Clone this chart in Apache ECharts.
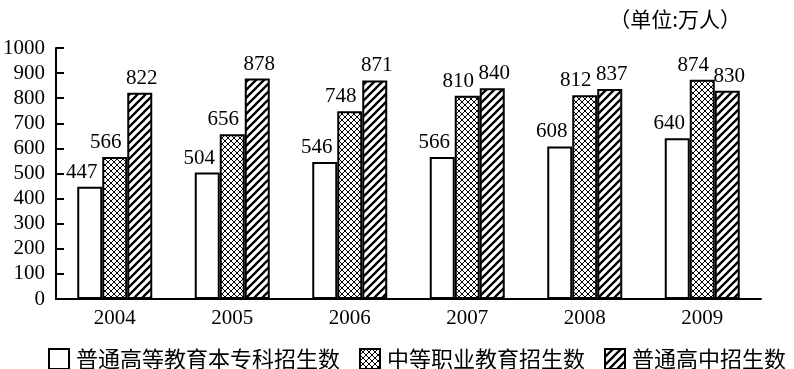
<!DOCTYPE html>
<html>
<head>
<meta charset="utf-8">
<script src="https://cdn.jsdelivr.net/npm/echarts@6/dist/echarts.min.js"></script>
<style>
html,body{margin:0;padding:0;background:#fff;}
#chart{width:794px;height:369px;}
</style>
</head>
<body>
<div id="chart"></div>
<script>
// ---- data ----
const categories = ['2004', '2005', '2006', '2007', '2008', '2009'];
const seriesNames = ['普通高等教育本专科招生数', '中等职业教育招生数', '普通高中招生数'];
const higherEdu = [447, 504, 546, 566, 608, 640];
const vocational = [566, 656, 748, 810, 812, 874];
const highSchool = [822, 878, 871, 840, 837, 830];
const unitText = '（单位:万人）';
const yMin = 0, yMax = 1000, yStep = 100;

// ---- patterns ----
function crossPattern() {
  const n = 6;
  const c = document.createElement('canvas');
  c.width = n; c.height = n;
  const ctx = c.getContext('2d');
  ctx.fillStyle = '#fff'; ctx.fillRect(0, 0, n, n);
  ctx.fillStyle = '#000';
  for (let i = 0; i < n; i++) {
    ctx.fillRect(i, i, 1, 1);
    ctx.fillRect(n - 1 - i, i, 1, 1);
  }
  return c;
}
function hatchPattern() {
  const n = 8;
  const c = document.createElement('canvas');
  c.width = n; c.height = n;
  const ctx = c.getContext('2d');
  ctx.fillStyle = '#fff'; ctx.fillRect(0, 0, n, n);
  ctx.strokeStyle = '#000';
  ctx.lineWidth = 2.3;
  for (const o of [-n, 0, n]) {
    ctx.beginPath();
    ctx.moveTo(o - 1, n + 1);
    ctx.lineTo(o + n + 1, -1);
    ctx.stroke();
  }
  return c;
}

const serif = 'Liberation Serif';
const cjk = 'Noto Sans CJK SC';

function barSeries(name, data, fill, dx) {
  return {
    name: name,
    type: 'bar',
    data: data,
    barWidth: 25,
    barGap: '0%',
    itemStyle: { color: fill, borderColor: '#000', borderWidth: 2 },
    label: {
      show: true, position: 'top', distance: 4, offset: [dx, 0],
      fontFamily: serif, fontSize: 21, color: '#000'
    }
  };
}

const chart = echarts.init(document.getElementById('chart'), null, { renderer: 'canvas' });
chart.setOption({
  animation: false,
  backgroundColor: '#fff',
  title: {
    text: unitText, right: 48, top: 4,
    textStyle: { fontFamily: cjk, fontSize: 21, fontWeight: 'normal', color: '#000' }
  },
  grid: { left: 54, right: 33, top: 48, bottom: 70, containLabel: false },
  legend: {
    left: 43, top: 343,
    itemWidth: 20, itemHeight: 20, itemGap: 19,
    icon: 'rect',
    textStyle: { fontFamily: cjk, fontSize: 22, color: '#000', padding: [0, 0, 0, 2] },
    data: seriesNames
  },
  xAxis: {
    type: 'category', data: categories,
    axisLine: { lineStyle: { color: '#000', width: 2 } },
    axisTick: { inside: true, length: 9, lineStyle: { color: '#000', width: 1.2 } },
    axisLabel: { fontFamily: serif, fontSize: 21, color: '#000', margin: 9 }
  },
  yAxis: {
    type: 'value', min: yMin, max: yMax, interval: yStep,
    splitLine: { show: false },
    axisLine: { show: true, lineStyle: { color: '#000', width: 2 } },
    axisTick: { show: true, inside: true, length: 8, lineStyle: { color: '#000', width: 2 } },
    axisLabel: { fontFamily: serif, fontSize: 21, color: '#000', margin: 11,
      formatter: function (v) { return String(v); } }
  },
  series: [
    barSeries(seriesNames[0], higherEdu, '#fff', -8),
    barSeries(seriesNames[1], vocational, { image: crossPattern(), repeat: 'repeat' }, -9),
    barSeries(seriesNames[2], highSchool, { image: hatchPattern(), repeat: 'repeat' }, 2)
  ]
});
</script>
</body>
</html>
